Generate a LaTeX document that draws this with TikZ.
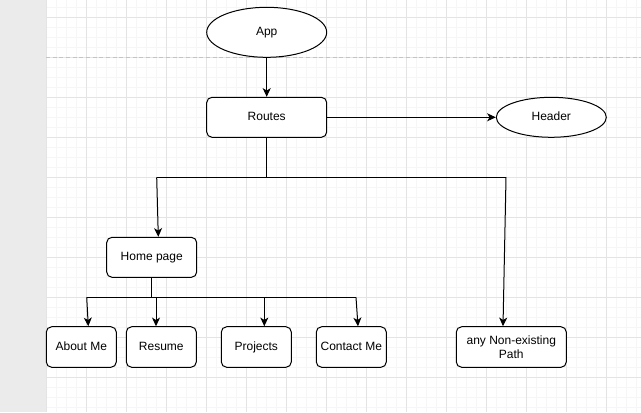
\documentclass[tikz,border=0pt]{standalone}
\usepackage{fontspec}
\setmainfont{Liberation Sans}
\usetikzlibrary{shapes.geometric,arrows.meta,calc}
\definecolor{sidegrey}{HTML}{EBEBEB}
\definecolor{majorgrid}{HTML}{E4E4E4}
\definecolor{minorgrid}{HTML}{F6F6F6}
\definecolor{dashgrey}{HTML}{C4C4C4}
\tikzset{
  every node/.style={font=\fontsize{9}{10.5}\selectfont},
  oneline/.style={text height=6.3pt, text depth=0.8pt},
  boxnode/.style={draw, line width=0.75pt, rounded corners=4pt, fill=white, inner sep=0pt, align=center},
  ovalnode/.style={draw, ellipse, line width=0.75pt, fill=white, inner sep=0pt, oneline},
  conn/.style={line width=0.75pt},
  arr/.style={line width=0.75pt, -{Stealth[length=6.5pt,width=6pt,inset=1.8pt]}}
}
\begin{document}
\begin{tikzpicture}[x=0.75pt,y=-0.75pt]
\useasboundingbox (0,0) rectangle (641,412);
\fill[white] (0,0) rectangle (641,412);
\fill[sidegrey] (0,0) rectangle (46,412);
% grid
\begin{scope}
\clip (46,0) rectangle (641,412);
\foreach \i in {0,...,64} {
  \draw[minorgrid, line width=0.5pt] ({6.7+10*\i},0) -- ({6.7+10*\i},412);
}
\foreach \j in {0,...,42} {
  \draw[minorgrid, line width=0.5pt] (0,{7.3+10*\j}) -- (641,{7.3+10*\j});
}
\foreach \i in {0,...,16} {
  \draw[majorgrid, line width=0.6pt] ({6.7+40*\i},0) -- ({6.7+40*\i},412);
}
\foreach \j in {0,...,10} {
  \draw[majorgrid, line width=0.6pt] (0,{17.3+40*\j}) -- (641,{17.3+40*\j});
}
\end{scope}
\draw[dashgrey, line width=0.6pt, dash pattern=on 3pt off 2pt] (46,57.3) -- (641,57.3);

% nodes
\node[ovalnode, minimum width=90pt, minimum height=37.5pt] (app) at (266.7,32.3) {App};
\node[boxnode, oneline, minimum width=90pt, minimum height=30pt] (routes) at (266.7,117.3) {Routes};
\node[ovalnode, minimum width=82.5pt, minimum height=30pt] (header) at (551.3,117.3) {Header};
\node[boxnode, oneline, minimum width=67.5pt, minimum height=30pt] (home) at (151.7,257.3) {Home page};
\node[boxnode, oneline, minimum width=52.5pt, minimum height=30.4pt] (about) at (81.3,347) {About Me};
\node[boxnode, oneline, minimum width=52.5pt, minimum height=30.4pt] (resume) at (161.3,347) {Resume};
\node[boxnode, oneline, minimum width=52.5pt, minimum height=30.4pt] (projects) at (256.3,347) {Projects};
\node[boxnode, oneline, minimum width=52.5pt, minimum height=30.4pt] (contact) at (351.3,347) {Contact Me};
\node[boxnode, minimum width=82.5pt, minimum height=30.4pt] (path) at (511.3,347) {any Non-existing\\Path};

% junction coordinates
\coordinate (r1) at (266.7,177.3);
\coordinate (rl) at (156.7,177.3);
\coordinate (rr) at (506,177.3);
\coordinate (h1) at (151.7,297.3);
\coordinate (hl) at (86.7,297.3);
\coordinate (hres) at (156,297.3);
\coordinate (hproj) at (264.3,297.3);
\coordinate (hr) at (356,297.3);

% connectors
\draw[arr] (app.south) -- (routes.north);
\draw[arr] (routes.east) -- (header.west);
\draw[conn] (routes.south) -- (r1);
\draw[conn] (rl) -- (rr);
\draw[arr] (rl) -- ($(home.north)+(6.6,0)$);
\draw[arr] (rr) -- ($(path.north)+(-8.3,0)$);
\draw[conn] (home.south) -- (h1);
\draw[conn] (hl) -- (hr);
\draw[arr] (hl) -- ($(about.north)+(7,0)$);
\draw[arr] (hres) -- ($(resume.north)+(-5.3,0)$);
\draw[arr] (hproj) -- ($(projects.north)+(8,0)$);
\draw[arr] (hr) -- ($(contact.north)+(6.7,0)$);
\end{tikzpicture}
\end{document}
